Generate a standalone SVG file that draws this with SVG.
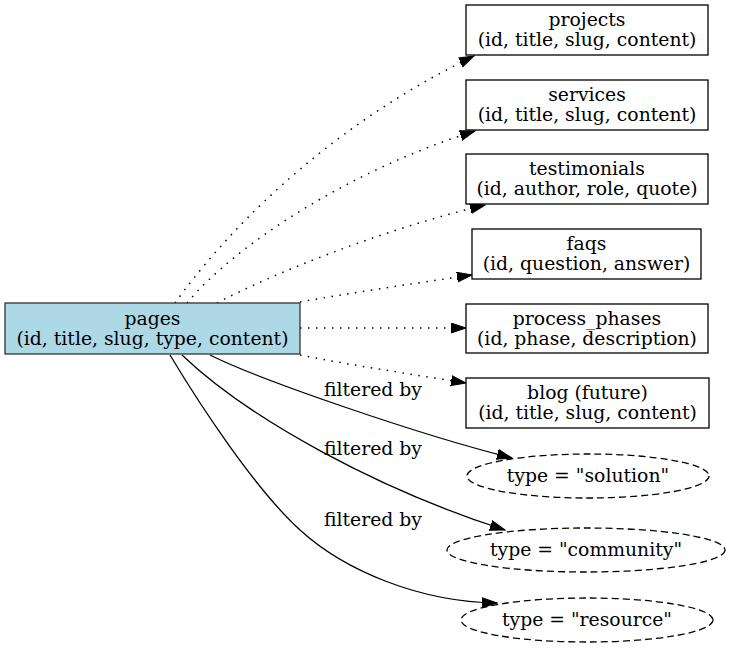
<svg xmlns="http://www.w3.org/2000/svg" width="733" height="651" viewBox="0 0 733 651">
<style>
  text { font-family: "DejaVu Serif", "Liberation Serif", serif; font-size: 18.8px; fill: #000; text-anchor: middle; }
  .box { fill: #fff; stroke: #000; stroke-width: 1.3; }
  .main { fill: #add8e6; stroke: #333; stroke-width: 1.3; }
  .ell { fill: none; stroke: #000; stroke-width: 1.3; stroke-dasharray: 7 4; }
  .dot { fill: none; stroke: #000; stroke-width: 1.5; stroke-dasharray: 1.5 6.5; }
  .solid { fill: none; stroke: #000; stroke-width: 1.3; }
</style>
<defs>
  <marker id="arr" markerUnits="userSpaceOnUse" markerWidth="16" markerHeight="12" refX="15" refY="5.5" orient="auto">
    <polygon points="0,0.5 15,5.5 0,10.5" fill="#000" stroke="#000" stroke-width="1"/>
  </marker>
</defs>
<rect width="733" height="651" fill="#fff"/>
<g id="edges">
  <path class="dot" d="M175,303 C220,240 320,130 474,56" marker-end="url(#arr)"/>
  <path class="dot" d="M187,303 C235,245 350,170 475,131" marker-end="url(#arr)"/>
  <path class="dot" d="M217,303 C270,275 380,230 485,205" marker-end="url(#arr)"/>
  <path class="dot" d="M300,302 C350,293 410,284 472,275" marker-end="url(#arr)"/>
  <path class="dot" d="M300,328 L466,328" marker-end="url(#arr)"/>
  <path class="dot" d="M300,355 C350,365 410,374 466,383" marker-end="url(#arr)"/>
  <path class="solid" d="M210,355 C260,380 420,435 512,458" marker-end="url(#arr)"/>
  <path class="solid" d="M182,355 C250,420 380,490 505,530" marker-end="url(#arr)"/>
  <path class="solid" d="M170,355 C200,405 255,489 300,530 C345,571 420,602 497,603" marker-end="url(#arr)"/>
  <text x="373" y="396">filtered by</text>
  <text x="373" y="455">filtered by</text>
  <text x="373" y="526">filtered by</text>
</g>
<g id="pages">
  <rect class="main" x="5" y="303" width="295" height="51"/>
  <text x="152.5" y="325">pages</text>
  <text x="152.5" y="345">(id, title, slug, type, content)</text>
</g>
<g id="projects">
  <rect class="box" x="466" y="5" width="242" height="50"/>
  <text x="587" y="26">projects</text>
  <text x="587" y="46">(id, title, slug, content)</text>
</g>
<g id="services">
  <rect class="box" x="466" y="80" width="242" height="50"/>
  <text x="587" y="101">services</text>
  <text x="587" y="121">(id, title, slug, content)</text>
</g>
<g id="testimonials">
  <rect class="box" x="466" y="154" width="242" height="50"/>
  <text x="587" y="175">testimonials</text>
  <text x="587" y="195">(id, author, role, quote)</text>
</g>
<g id="faqs">
  <rect class="box" x="472" y="229" width="229" height="50"/>
  <text x="586.5" y="250">faqs</text>
  <text x="586.5" y="270">(id, question, answer)</text>
</g>
<g id="process_phases">
  <rect class="box" x="466" y="304" width="242" height="49"/>
  <text x="587" y="325">process_phases</text>
  <text x="587" y="345">(id, phase, description)</text>
</g>
<g id="blog">
  <rect class="box" x="466" y="378" width="243" height="50"/>
  <text x="587.5" y="399">blog (future)</text>
  <text x="587.5" y="419">(id, title, slug, content)</text>
</g>
<g id="type_solution">
  <ellipse class="ell" cx="588" cy="476" rx="121" ry="22"/>
  <text x="588" y="482">type = "solution"</text>
</g>
<g id="type_community">
  <ellipse class="ell" cx="586" cy="550" rx="139" ry="22"/>
  <text x="586" y="556">type = "community"</text>
</g>
<g id="type_resource">
  <ellipse class="ell" cx="587" cy="620" rx="126" ry="22"/>
  <text x="587" y="626">type = "resource"</text>
</g>
</svg>
